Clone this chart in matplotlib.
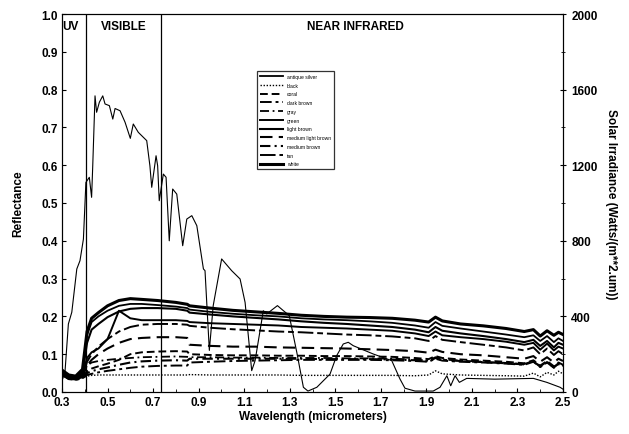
import numpy as np
import matplotlib
matplotlib.use("Agg")
import matplotlib.pyplot as plt

plt.rcParams['font.family'] = ['Liberation Sans', 'DejaVu Sans']

# wavelength grid for the reflectance curves (micrometers)
wl = [0.30, 0.33, 0.36, 0.39, 0.41, 0.43, 0.46, 0.50, 0.55, 0.60, 0.65, 0.72, 0.80, 0.85, 0.86,
      0.95, 1.05, 1.15, 1.25, 1.35, 1.45, 1.55, 1.65, 1.75, 1.85, 1.91, 1.94, 1.97, 2.05, 2.15,
      2.25, 2.33, 2.37, 2.40, 2.43, 2.46, 2.48, 2.50]

antique_silver = [.055, .042, .040, .055, .150, .185, .200, .215, .228, .233, .233, .230, .226, .222, .218,
                  .212, .207, .203, .200, .195, .192, .190, .187, .183, .176, .170, .185, .175, .168, .160,
                  .152, .145, .150, .135, .148, .132, .142, .135]
black = [.045, .035, .033, .038, .042, .044, .045, .045, .045, .045, .045, .045, .045, .045, .046,
         .045, .045, .045, .045, .044, .044, .044, .044, .044, .043, .045, .056, .048, .045, .044,
         .043, .042, .050, .040, .052, .045, .055, .048]
coral = [.047, .035, .033, .038, .055, .062, .068, .075, .085, .100, .105, .107, .108, .107, .100,
         .098, .097, .097, .096, .096, .095, .095, .094, .093, .090, .087, .095, .090, .086, .083,
         .080, .076, .084, .070, .082, .068, .078, .072]
dark_brown = [.045, .034, .032, .036, .045, .048, .052, .056, .060, .064, .067, .069, .070, .070, .078,
              .080, .082, .083, .084, .085, .085, .085, .085, .084, .082, .080, .088, .083, .080, .078,
              .075, .072, .080, .066, .078, .064, .074, .068]
gray = [.048, .037, .035, .045, .070, .078, .082, .085, .088, .090, .092, .093, .094, .093, .092,
        .092, .091, .091, .090, .090, .090, .089, .089, .088, .086, .083, .092, .086, .083, .080,
        .077, .074, .082, .068, .080, .066, .076, .070]
green = [.050, .038, .036, .045, .090, .105, .115, .140, .215, .195, .190, .190, .190, .188, .185,
         .182, .180, .178, .176, .172, .170, .168, .165, .162, .155, .148, .160, .150, .145, .140,
         .133, .125, .130, .112, .128, .110, .120, .115]
light_brown = [.052, .040, .038, .050, .130, .165, .180, .198, .213, .220, .222, .222, .220, .215, .210,
               .205, .200, .196, .192, .187, .183, .180, .176, .172, .165, .158, .172, .162, .155, .148,
               .140, .132, .138, .122, .135, .118, .130, .125]
medium_light_brown = [.048, .036, .034, .040, .070, .085, .100, .115, .130, .140, .143, .145, .145, .143, .125,
                      .122, .120, .120, .118, .117, .116, .115, .113, .111, .108, .104, .112, .106, .100, .097,
                      .092, .088, .095, .080, .092, .078, .088, .082]
medium_brown = [.046, .035, .033, .038, .050, .055, .060, .065, .072, .078, .081, .083, .084, .083, .088,
                .088, .088, .088, .088, .088, .087, .087, .087, .086, .084, .081, .090, .085, .082, .079,
                .076, .073, .081, .067, .079, .065, .075, .069]
tan = [.050, .038, .035, .042, .080, .100, .120, .140, .160, .172, .178, .180, .180, .178, .175,
       .170, .166, .163, .160, .158, .155, .152, .150, .147, .142, .135, .148, .138, .132, .125,
       .118, .110, .118, .100, .115, .098, .108, .100]
white = [.058, .045, .042, .060, .160, .195, .210, .228, .242, .247, .245, .242, .237, .232, .228,
         .222, .216, .212, .208, .203, .200, .198, .197, .195, .190, .185, .198, .188, .180, .175,
         .168, .160, .165, .148, .162, .150, .158, .152]

# solar irradiance curve (Watts/(m**2.um))
wl_sun = [0.30, 0.313, 0.328, 0.343, 0.365, 0.379, 0.394, 0.405, 0.42, 0.43, 0.435, 0.445, 0.452,
          0.464, 0.479, 0.489, 0.508, 0.523, 0.533, 0.555, 0.577, 0.60, 0.613, 0.635, 0.672, 0.686,
          0.694, 0.713, 0.72, 0.727, 0.745, 0.757, 0.771, 0.786, 0.804, 0.83, 0.848, 0.87, 0.892,
          0.921, 0.928, 0.947, 0.964, 1.001, 1.045, 1.082, 1.104, 1.133, 1.148, 1.184, 1.199, 1.246,
          1.298, 1.331, 1.36, 1.38, 1.419, 1.477, 1.506, 1.535, 1.557, 1.579, 1.667, 1.748, 1.784,
          1.806, 1.85, 1.93, 1.96, 1.99, 2.007, 2.026, 2.045, 2.077, 2.2, 2.37, 2.429, 2.487, 2.5]
irradiance = [60, 104, 360, 422, 651, 695, 809, 1109, 1136, 1030, 1197, 1567, 1480,
              1533, 1567, 1524, 1515, 1444, 1500, 1488, 1427, 1342, 1418, 1374, 1330, 1197,
              1083, 1250, 1197, 1012, 1153, 1136, 800, 1074, 1047, 774, 915, 933, 880,
              651, 642, 220, 457, 704, 642, 598, 474, 113, 166, 430, 413, 457,
              404, 210, 25, 5, 25, 95, 192, 254, 263, 245, 201, 166, 69,
              20, 5, 5, 25, 86, 33, 86, 51, 72, 68, 72, 51, 25, 15]

series = [
    ("antique silver", antique_silver, "-", 1.3),
    ("black", black, (0, (1, 1.2)), 1.0),
    ("coral", coral, (0, (4, 2)), 1.4),
    ("dark brown", dark_brown, (0, (6, 2, 1.5, 2)), 1.4),
    ("gray", gray, (0, (5, 2, 1, 2)), 1.3),
    ("green", green, "-", 1.4),
    ("light brown", light_brown, "-", 1.5),
    ("medium light brown", medium_light_brown, (0, (6, 3)), 1.5),
    ("medium brown", medium_brown, (0, (5, 2, 1, 2)), 1.5),
    ("tan", tan, (0, (8, 2, 3, 2)), 1.4),
    ("white", white, "-", 2.2),
]

fs = 8.5

fig = plt.figure(figsize=(6.29, 4.35), dpi=100)
ax = fig.add_axes([62/629, 1 - 393/435, 501/629, 378/435])

for name, vals, ls, lw in series:
    ax.plot(wl, vals, color="black", linestyle=ls, linewidth=lw, label=name)

ax.axvline(0.405, color="black", linewidth=0.9)
ax.axvline(0.735, color="black", linewidth=0.9)

ax.set_xlim(0.3, 2.5)
ax.set_ylim(0.0, 1.0)
ax.set_xticks(np.arange(0.3, 2.51, 0.2))
ax.set_xticks(np.arange(0.4, 2.5, 0.2), minor=True)
ax.set_xticklabels([f"{v:.1f}" for v in np.arange(0.3, 2.51, 0.2)])
ax.set_yticks(np.arange(0, 1.01, 0.1))
ax.set_yticklabels([f"{v:.1f}" for v in np.arange(0, 1.01, 0.1)])
ax.tick_params(direction="in", length=3, width=0.8, labelsize=fs, pad=3)
ax.tick_params(which="minor", direction="in", length=2)
for lab in ax.get_xticklabels() + ax.get_yticklabels():
    lab.set_fontweight("bold")
ax.set_xlabel("Wavelength (micrometers)", fontsize=fs, fontweight="bold", labelpad=1)
ax.set_ylabel("Reflectance", fontsize=fs, fontweight="bold", labelpad=12)

kw = dict(fontsize=fs, fontweight="bold", va="center")
ax.text(0.335, 0.968, "UV", ha="center", **kw)
ax.text(0.57, 0.968, "VISIBLE", ha="center", **kw)
ax.text(1.59, 0.968, "NEAR INFRARED", ha="center", **kw)

leg = ax.legend(loc="upper left", bbox_to_anchor=(0.385, 0.856), fontsize=3.6,
                frameon=True, fancybox=False, edgecolor="black", handlelength=4.5,
                labelspacing=0.75, borderpad=0.6, handletextpad=0.8)
leg.get_frame().set_linewidth(0.9)

ax2 = ax.twinx()
ax2.plot(wl_sun, irradiance, color="black", linewidth=0.8)
ax2.set_ylim(0, 2000)
ax2.set_yticks(np.arange(0, 2001, 400))
ax2.set_yticks(np.arange(200, 2000, 400), minor=True)
ax2.tick_params(direction="inout", length=4, width=0.8, labelsize=fs, pad=4)
ax2.tick_params(which="minor", direction="inout", length=3)
for lab in ax2.get_yticklabels():
    lab.set_fontweight("bold")
ax2.set_ylabel("Solar Irradiance (Watts/(m**2.um))", fontsize=fs, fontweight="bold",
               rotation=270, labelpad=14)

fig.savefig("out.png", dpi=100)
